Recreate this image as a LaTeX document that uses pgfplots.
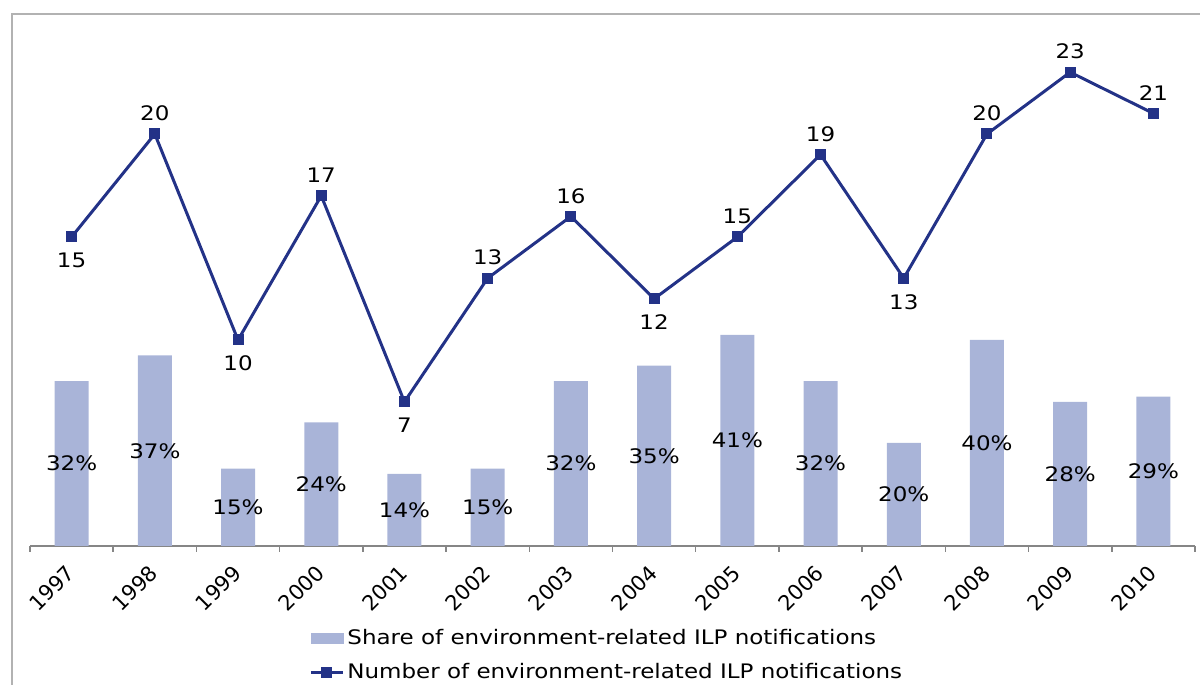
\documentclass[border=0pt]{standalone}
\usepackage{pgfplots}
\usepackage{pgfplotstable}
\pgfplotsset{compat=1.18}
\usepackage{fontspec}
\setmainfont{DejaVu Sans}
\newfontfamily\wide{DejaVu Sans}[FakeStretch=1.15]
\definecolor{barc}{HTML}{A9B4D8}
\definecolor{linec}{HTML}{233287}
\definecolor{axc}{HTML}{868686}

\pgfplotstableread{
x y
0 32
1 37
2 15
3 24
4 14
5 15
6 32
7 35
8 41
9 32
10 20
11 40
12 28
13 29
}\bars

\pgfplotstableread{
x y
0 15
1 20
2 10
3 17
4 7
5 13
6 16
7 12
8 15
9 19
10 13
11 20
12 23
13 21
}\lines

% line points labelled above / below
\pgfplotstableread{
x y
1 20
3 17
5 13
6 16
8 15
9 19
11 20
12 23
13 21
}\labup
\pgfplotstableread{
x y
0 15
2 10
4 7
7 12
10 13
}\labdown

\begin{document}
\begin{tikzpicture}[font=\wide\fontsize{10bp}{12bp}\selectfont]
\useasboundingbox (0,0) rectangle (600bp,342.5bp);
\draw[black!30, line width=0.75bp] (6bp,-5bp) -- (6bp,335.5bp) -- (610bp,335.5bp);
\begin{axis}[
  at={(15bp,69.5bp)}, anchor=south west, scale only axis,
  width=582.5bp, height=257.5bp,
  xmin=-0.5, xmax=13.5, ymin=0, ymax=100,
  axis x line*=bottom, axis y line=none, ytick=\empty,
  x axis line style={axc, line width=1bp, -},
  xtick={0,...,13},
  xticklabels={1997,1998,1999,2000,2001,2002,2003,2004,2005,2006,2007,2008,2009,2010},
  major tick length=0pt,
  minor xtick={-0.5,0.5,...,13.5}, minor tick length=3bp, tick align=outside,
  minor tick style={axc, line width=0.75bp},
  xticklabel style={rotate=45, anchor=north east, yshift=-0.4bp, xshift=-5bp,
     font=\rmfamily\fontsize{10.5bp}{12bp}\selectfont},
  ybar, bar width=17bp,
]
\addplot[fill=barc, draw=none,
  nodes near coords={\pgfplotspointmeta\%},
  point meta=explicit symbolic,
  visualization depends on={y \as \ry},
  every node near coord/.append style={anchor=center, black,
     font=\wide\fontsize{10bp}{12bp}\selectfont,
     shift={(axis direction cs:0,{-\ry/2})}}
] table[x=x, y=y, meta=y] {\bars};
\end{axis}
\begin{axis}[
  at={(15bp,69.5bp)}, anchor=south west, scale only axis,
  width=582.5bp, height=257.5bp,
  xmin=-0.5, xmax=13.5, ymin=0, ymax=25,
  axis lines=none, xtick=\empty, ytick=\empty,
  clip=false,
  legend style={at={(0.2395,-0.155)}, anchor=north west, draw=none, fill=none,
     inner sep=0pt, row sep=5bp, font=\wide\fontsize{10bp}{12bp}\selectfont,
     nodes={inner sep=1.5bp}},
  legend cell align=left,
]
\addlegendimage{legend image code/.code={\fill[barc] (0bp,-2.5bp) rectangle (16bp,2.5bp);}}
\addlegendentry{Share of environment-related ILP notifications}
\addplot[linec, line width=1.5bp, mark=square*, mark size=2bp, mark options={solid},
  legend image code/.code={\draw[linec, line width=1.5bp] (0bp,0bp) -- (16bp,0bp);
     \fill[linec] (6bp,-2bp) rectangle (10bp,2bp);}
] table[x=x, y=y] {\lines};
\addlegendentry{Number of environment-related ILP notifications}
\addplot[draw=none, mark=none, forget plot,
  nodes near coords={\pgfplotspointmeta},
  point meta=explicit symbolic,
  every node near coord/.append style={anchor=south, black, inner sep=6.3bp,
     font=\wide\fontsize{10bp}{12bp}\selectfont}
] table[x=x, y=y, meta=y] {\labup};
\addplot[draw=none, mark=none, forget plot,
  nodes near coords={\pgfplotspointmeta},
  point meta=explicit symbolic,
  every node near coord/.append style={anchor=north, black, inner sep=7.8bp,
     font=\wide\fontsize{10bp}{12bp}\selectfont}
] table[x=x, y=y, meta=y] {\labdown};
\end{axis}
\end{tikzpicture}
\end{document}
